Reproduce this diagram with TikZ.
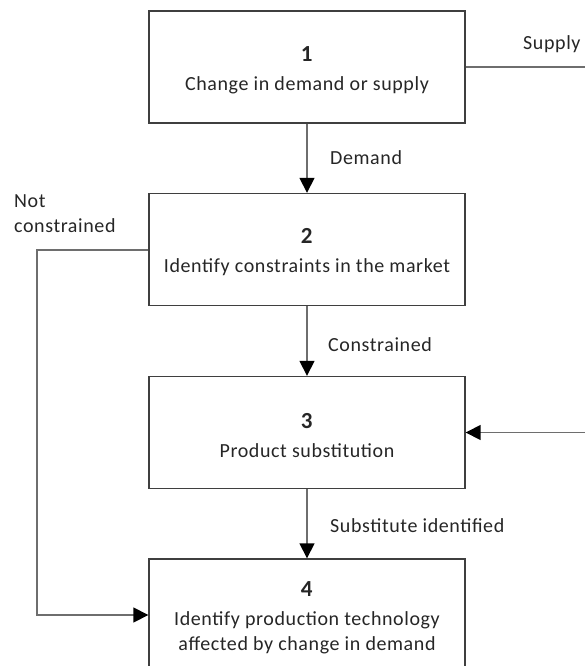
\documentclass[tikz,border=0pt]{standalone}
\usepackage{fontspec}
\setmainfont{Carlito}[LetterSpace=3]
\usetikzlibrary{arrows.meta}
\definecolor{boxline}{HTML}{3F3F3F}
\definecolor{linkline}{HTML}{6E6E6E}
\tikzset{
  stage/.style={draw=boxline, line width=1.4pt, minimum width=316pt, minimum height=112pt,
    align=center, inner sep=0pt, font=\fontsize{20}{25}\selectfont, text=black!85},
  link/.style={draw=linkline, line width=1.6pt, -{Triangle[length=15pt,width=15pt,color=black]}},
  plain/.style={draw=linkline, line width=1.6pt},
  tag/.style={font=\fontsize{20}{25}\selectfont, text=black!85, inner sep=0pt}
}
% stage number, with a strut that sets the first line a little lower
\newcommand{\stagenum}[1]{\rule{0pt}{21pt}\textbf{\fontsize{23}{25}\selectfont #1}}
\begin{document}
\begin{tikzpicture}[x=1pt,y=-1pt]
  \useasboundingbox (0,0) rectangle (584,666);
  % process stages
  \node[stage] (s1) at (307,67) {\stagenum{1}\\[4pt]Change in demand or supply};
  \node[stage] (s2) at (307,249.5) {\stagenum{2}\\[4pt]Identify constraints in the market};
  \node[stage] (s3) at (307,432.5) {\stagenum{3}\\[4pt]Product substitution};
  \node[stage] (s4) at (307,615) {\stagenum{4}\\[4pt]Identify production technology\\affected by change in demand};
  % free ends on the right and left
  \coordinate (supplyend) at (590,67);
  \coordinate (loopin) at (590,432.5);
  \coordinate (leftturn) at (37,250);
  \coordinate (leftdown) at (37,615);
  % connectors
  \draw[link] (s1.south) -- (s2.north);
  \draw[link] (s2.south) -- (s3.north);
  \draw[link] (s3.south) -- (s4.north);
  \draw[plain] (s1.east) -- (supplyend);
  \draw[link] (loopin) -- (s3.east);
  \draw[link] (s2.west |- leftturn) -- (leftturn) -- (leftdown) -- (s4.west |- leftdown);
  % connector labels
  \node[tag, anchor=west] (ldemand) at (330,158) {Demand};
  \node[tag, anchor=west] (lcons) at (328,345) {Constrained};
  \node[tag, anchor=west] (lsubst) at (330,526) {Substitute identified};
  \node[tag, anchor=west] (lsupply) at (523,44) {Supply};
  \node[tag, anchor=west, align=left] (lnot) at (14,213.5) {Not\\constrained};
\end{tikzpicture}
\end{document}
